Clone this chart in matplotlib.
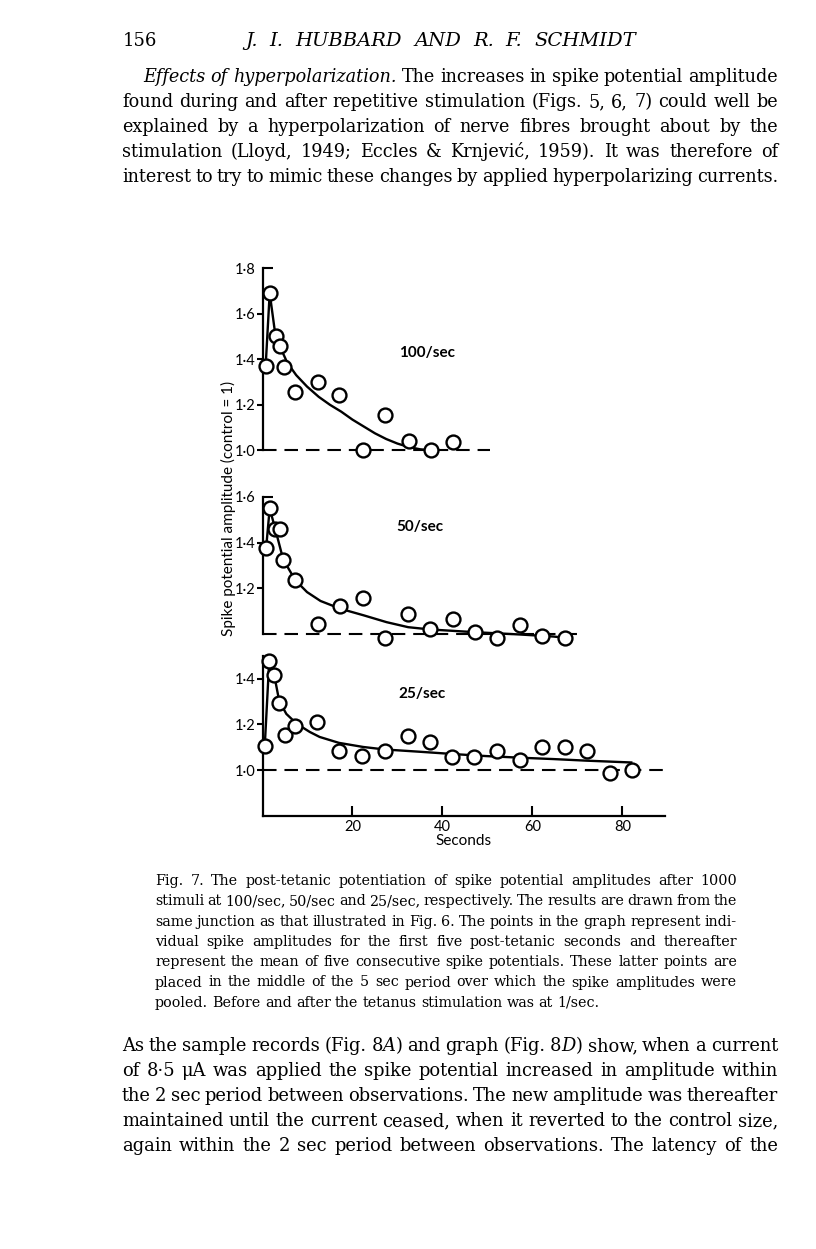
import matplotlib
matplotlib.use("Agg")
import matplotlib.pyplot as plt
from matplotlib.ticker import FixedLocator, FixedFormatter

W, H = 816, 1249

# ---- values: seconds after tetanus, amplitude (control = 1) ----
t100 = [0.7, 1.6, 2.9, 3.9, 4.7, 7.2, 12.3, 17.1, 22.4, 27.2, 32.5, 37.4, 42.3]
a100 = [1.37, 1.69, 1.50, 1.46, 1.365, 1.255, 1.30, 1.245, 1.0, 1.155, 1.04, 1.0, 1.037]
fit100_t = [0.7, 1.6, 2.9, 3.9, 5.5, 7.5, 9.9, 12.5, 15.0, 17.5, 20.0, 22.5, 25.0, 27.5, 30.0, 32.5, 35.0, 37.5]
fit100_a = [1.37, 1.69, 1.50, 1.455, 1.385, 1.33, 1.28, 1.235, 1.20, 1.17, 1.135, 1.105, 1.075, 1.05,
            1.03, 1.015, 1.005, 1.0]

t50 = [0.8, 1.6, 2.7, 4.0, 4.6, 7.3, 12.3, 17.3, 22.3, 27.3, 32.4, 37.3, 42.3, 47.3, 52.2, 57.2, 62.1, 67.2]
a50 = [1.375, 1.55, 1.46, 1.46, 1.325, 1.235, 1.045, 1.12, 1.155, 0.982, 1.085, 1.02, 1.063, 1.01,
       0.982, 1.04, 0.99, 0.982]
fit50_t = [0.8, 1.6, 2.9, 4.6, 7.3, 9.9, 12.9, 17.3, 22.5, 27.6, 32.4, 37.3, 47.3, 57.2, 64.7, 67.6]
fit50_a = [1.375, 1.55, 1.455, 1.326, 1.235, 1.183, 1.144, 1.11, 1.081, 1.051, 1.029, 1.019, 1.007,
           0.997, 0.988, 0.982]

t25 = [0.5, 1.5, 2.6, 3.7, 5.0, 7.3, 12.2, 17.1, 22.2, 27.2, 32.3, 37.3, 42.2, 47.1, 52.2, 57.2,
       62.2, 67.2, 72.2, 77.2, 82.1]
a25 = [1.105, 1.48, 1.415, 1.295, 1.155, 1.195, 1.21, 1.085, 1.06, 1.085, 1.15, 1.125, 1.058, 1.058,
       1.083, 1.045, 1.10, 1.10, 1.083, 0.988, 1.0]
fit25_t = [0.5, 1.5, 2.6, 3.7, 5.3, 7.6, 10.5, 12.7, 17.0, 22.4, 27.2, 35.0, 42.4, 49.8, 57.2, 64.6, 72.0, 82.0]
fit25_a = [1.105, 1.48, 1.417, 1.304, 1.246, 1.203, 1.167, 1.145, 1.119, 1.101, 1.09, 1.08, 1.07,
           1.061, 1.054, 1.048, 1.041, 1.033]

rates = ["100/sec", "50/sec", "25/sec"]
base_end = [50.5, 71.0, 89.5]
ytick_sets = [[1.0, 1.2, 1.4, 1.6], [1.2, 1.4], [1.0, 1.2, 1.4]]
ytop = [1.8, 1.6, 1.5]
xticks = [20, 40, 60, 80]

header_num = "156"
header = "J. I. HUBBARD AND R. F. SCHMIDT"
para1 = [
    "_Effects_ _of_ _hyperpolarization._ The increases in spike potential amplitude",
    "found during and after repetitive stimulation (Figs. 5, 6, 7) could well be",
    "explained by a hyperpolarization of nerve fibres brought about by the",
    "stimulation (Lloyd, 1949; Eccles & Krnjević, 1959). It was therefore of",
    "interest to try to mimic these changes by applied hyperpolarizing currents.",
]
caption = [
    "Fig. 7. The post-tetanic potentiation of spike potential amplitudes after 1000",
    "stimuli at 100/sec, 50/sec and 25/sec, respectively. The results are drawn from the",
    "same junction as that illustrated in Fig. 6. The points in the graph represent indi-",
    "vidual spike amplitudes for the first five post-tetanic seconds and thereafter",
    "represent the mean of five consecutive spike potentials. These latter points are",
    "placed in the middle of the 5 sec period over which the spike amplitudes were",
    "pooled. Before and after the tetanus stimulation was at 1/sec.",
]
para2 = [
    "As the sample records (Fig. 8_A_) and graph (Fig. 8_D_) show, when a current",
    "of 8·5 μA was applied the spike potential increased in amplitude within",
    "the 2 sec period between observations. The new amplitude was thereafter",
    "maintained until the current ceased, when it reverted to the control size,",
    "again within the 2 sec period between observations. The latency of the",
]

plt.rcParams["font.family"] = ["Lato", "DejaVu Sans"]
fig = plt.figure(figsize=(W / 100, H / 100), dpi=100)
fig.patch.set_facecolor("white")
renderer = fig.canvas.get_renderer()


def make_words(spec, yb, size, style):
    words = []
    for w in spec.split(" "):
        pieces = []
        for k, part in enumerate(w.split("_")):
            if part:
                st = "italic" if (k % 2 == 1) != (style == "italic") else "normal"
                t = fig.text(0, 1 - yb / H, part, fontsize=size, family="DejaVu Serif",
                             style=st, va="baseline", ha="left")
                pieces.append([t, t.get_window_extent(renderer).width])
        words.append(pieces)
    return words


def text_block(lines, x0s, x1, yb0, step, size, last_ragged=False, style="normal"):
    # shrink the whole block if a line would not fit with a normal word space
    need = 1.0
    for i, line in enumerate(lines):
        ws = make_words(line, yb0, size, style)
        total = sum(p[1] for w in ws for p in w) + (len(ws) - 1) * size * 100 / 72 * 0.22
        need = max(need, total / (x1 - x0s[i]))
        for w in ws:
            for t, _ in w:
                t.remove()
    size = size / need
    for i, line in enumerate(lines):
        yb = yb0 + step * i
        words = make_words(line, yb, size, style)
        widths = [sum(p[1] for p in w) for w in words]
        x0 = x0s[i]
        if (last_ragged and i == len(lines) - 1) or len(words) == 1:
            gap = size * 100 / 72 * 0.3
        else:
            gap = (x1 - x0 - sum(widths)) / (len(words) - 1)
        x = x0
        for w, wd in zip(words, widths):
            xx = x
            for t, pw in w:
                t.set_x(xx / W)
                xx += pw
            x += wd + gap


# page text
fig.text(123 / W, 1 - 46 / H, header_num, fontsize=13, family="DejaVu Serif", va="baseline")
text_block([header], [245], 636, 46, 0, 14, style="italic")
text_block(para1, [143, 122, 122, 122, 122], 778, 82, 25, 13.2)
text_block(caption, [155] * 7, 737, 885, 20.3, 10.6, last_ragged=True)
text_block(para2, [122] * 5, 778, 1051, 25, 13.2)


def px_axes(left, top, right, bottom):
    return fig.add_axes([left / W, 1 - bottom / H, (right - left) / W, (bottom - top) / H])


axes = [px_axes(262.5, 268, 665, 461.8),
        px_axes(262.5, 497, 665, 645.2),
        px_axes(262.5, 656, 665, 815.6)]
ylims = [(0.95, 1.8), (0.95, 1.6), (0.8, 1.5)]
series = [(t100, a100, fit100_t, fit100_a), (t50, a50, fit50_t, fit50_a), (t25, a25, fit25_t, fit25_a)]
label_pos = [(36.6, 1.426), (35.1, 1.47), (35.5, 1.333)]


def fmt(v):
    return f"{v:.1f}".replace(".", "·")


for k, ax in enumerate(axes):
    t, a, ft, fa = series[k]
    ax.set_xlim(0, 89.5)
    ax.set_ylim(*ylims[k])
    ax.patch.set_alpha(0)
    ax.hlines(1.0, 0, base_end[k], colors="k", lw=1.5, linestyles=[(0, (6.5, 3.8))])
    ax.plot(ft, fa, color="k", lw=1.7, solid_joinstyle="round")
    ax.plot(t, a, "o", ms=10, mfc="white", mec="k", mew=1.7, clip_on=False, zorder=5)
    for s in ["top", "right", "bottom"]:
        ax.spines[s].set_visible(False)
    ax.spines["left"].set_linewidth(1.6)
    ax.spines["left"].set_bounds(ylims[k][0] if k == 2 else 1.0, ytop[k])
    ax.set_yticks(ytick_sets[k])
    ax.set_yticklabels([fmt(v) for v in ytick_sets[k]])
    ax.tick_params(axis="y", direction="out", length=4, width=1.5, pad=1, labelsize=10.5)
    ax.text(*label_pos[k], rates[k], ha="center", va="center", fontsize=11, fontweight="bold")
    if k < 2:
        ax.yaxis.set_minor_locator(FixedLocator([ytop[k]]))
        ax.yaxis.set_minor_formatter(FixedFormatter([fmt(ytop[k])]))
        ax.tick_params(axis="y", which="minor", direction="in", length=7, width=1.5,
                       pad=5, labelsize=10.5)
        ax.set_xticks([])
    else:
        ax.spines["bottom"].set_visible(True)
        ax.spines["bottom"].set_linewidth(1.6)
        ax.set_xticks(xticks)
        ax.tick_params(axis="x", direction="in", length=7, width=1.5, pad=3, labelsize=10.5)
        ax.set_xlabel("Seconds", fontsize=11, labelpad=0)

fig.text(228 / W, 1 - 508 / H, "Spike potential amplitude (control = 1)", rotation=90,
         ha="center", va="center", fontsize=11)

fig.savefig("out.png", dpi=100, facecolor="white")
